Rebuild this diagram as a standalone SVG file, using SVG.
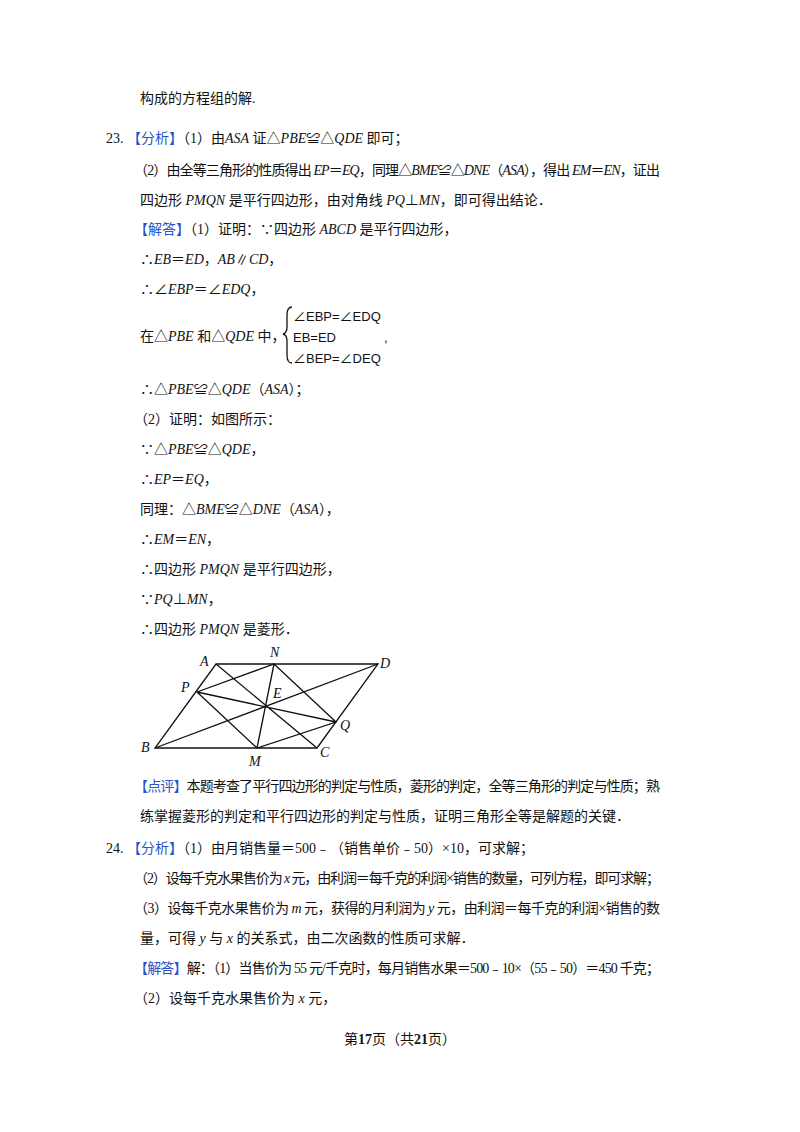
<svg xmlns="http://www.w3.org/2000/svg" width="800" height="1132" viewBox="0 0 800 1132">
<style>
text{font-family:"Liberation Serif","Noto Sans CJK SC",serif;font-size:14px;fill:#111}
.b{fill:#2a52c9}
.i{font-style:italic}
.s{font-family:"Liberation Sans","Noto Sans CJK SC",sans-serif;font-size:13px}
.l{stroke:#111;stroke-width:1.3;fill:none}
.lb{font-style:italic;font-size:14px}
</style>
<rect width="800" height="1132" fill="#fff"/>
<text x="140" y="103">构成的方程组的解.</text>
<text x="106" y="143">23.  <tspan class="b">【分析】</tspan>（1）由<tspan class="i">ASA</tspan> 证△<tspan class="i">PBE</tspan>≌△<tspan class="i">QDE</tspan> 即可；</text>
<text x="134" y="175" textLength="526" lengthAdjust="spacing">（2）由全等三角形的性质得出 <tspan class="i">EP</tspan>＝<tspan class="i">EQ</tspan>，同理△<tspan class="i">BME</tspan>≌△<tspan class="i">DNE</tspan>（<tspan class="i">ASA</tspan>），得出 <tspan class="i">EM</tspan>＝<tspan class="i">EN</tspan>，证出</text>
<text x="140" y="205">四边形 <tspan class="i">PMQN</tspan> 是平行四边形，由对角线 <tspan class="i">PQ</tspan>⊥<tspan class="i">MN</tspan>，即可得出结论．</text>
<text x="134" y="234"><tspan class="b">【解答】</tspan>（1）证明：∵四边形 <tspan class="i">ABCD</tspan> 是平行四边形，</text>
<text x="140" y="264">∴<tspan class="i">EB</tspan>＝<tspan class="i">ED</tspan>，<tspan class="i">AB</tspan>∥<tspan class="i">CD</tspan>，</text>
<text x="140" y="294">∴∠<tspan class="i">EBP</tspan>＝∠<tspan class="i">EDQ</tspan>，</text>
<text x="140" y="341">在△<tspan class="i">PBE</tspan> 和△<tspan class="i">QDE</tspan> 中，</text>
<path class="l" d="M292,307 Q287,307 287,315 L287,327 Q287,333 283,334 Q287,335 287,341 L287,355 Q287,363 292,363" stroke-width="1"/>
<text class="s" x="293" y="321">∠EBP=∠EDQ</text>
<text class="s" x="293" y="342">EB=ED</text>
<text class="s" x="384" y="342">,</text>
<text class="s" x="293" y="363">∠BEP=∠DEQ</text>
<text x="140" y="394">∴△<tspan class="i">PBE</tspan>≌△<tspan class="i">QDE</tspan>（<tspan class="i">ASA</tspan>）；</text>
<text x="134" y="424">（2）证明：如图所示：</text>
<text x="140" y="454">∵△<tspan class="i">PBE</tspan>≌△<tspan class="i">QDE</tspan>，</text>
<text x="140" y="484">∴<tspan class="i">EP</tspan>＝<tspan class="i">EQ</tspan>，</text>
<text x="140" y="514">同理：△<tspan class="i">BME</tspan>≌△<tspan class="i">DNE</tspan>（<tspan class="i">ASA</tspan>），</text>
<text x="140" y="544">∴<tspan class="i">EM</tspan>＝<tspan class="i">EN</tspan>，</text>
<text x="140" y="574">∴四边形 <tspan class="i">PMQN</tspan> 是平行四边形，</text>
<text x="140" y="604">∵<tspan class="i">PQ</tspan>⊥<tspan class="i">MN</tspan>，</text>
<text x="140" y="634">∴四边形 <tspan class="i">PMQN</tspan> 是菱形．</text>
<g id="figure">
<g id="connectors">
<path class="l" d="M216,664 L378,664 L317,748 L155,748 Z"/>
<path class="l" d="M155,748 L378,664 M216,664 L317,748 M197,692 L336,722 M274,664 L257,748 M197,692 L274,664 L336,722 L257,748 Z"/>
</g>
<text class="lb" x="200" y="666">A</text>
<text class="lb" x="270" y="657">N</text>
<text class="lb" x="380" y="668">D</text>
<text class="lb" x="181" y="692">P</text>
<text class="lb" x="273" y="698">E</text>
<text class="lb" x="340" y="730">Q</text>
<text class="lb" x="141" y="752">B</text>
<text class="lb" x="249" y="766">M</text>
<text class="lb" x="320" y="757">C</text>
</g>
<text x="134" y="791" textLength="526" lengthAdjust="spacing"><tspan class="b">【点评】</tspan>本题考查了平行四边形的判定与性质，菱形的判定，全等三角形的判定与性质；熟</text>
<text x="140" y="821">练掌握菱形的判定和平行四边形的判定与性质，证明三角形全等是解题的关键．</text>
<text x="106" y="853">24.  <tspan class="b">【分析】</tspan>（1）由月销售量＝500﹣（销售单价﹣50）×10，可求解；</text>
<text x="134" y="883" textLength="526" lengthAdjust="spacing">（2）设每千克水果售价为 <tspan class="i">x</tspan> 元，由利润＝每千克的利润×销售的数量，可列方程，即可求解；</text>
<text x="134" y="913" textLength="526" lengthAdjust="spacing">（3）设每千克水果售价为 <tspan class="i">m</tspan> 元，获得的月利润为 <tspan class="i">y</tspan> 元，由利润＝每千克的利润×销售的数</text>
<text x="140" y="943">量，可得 <tspan class="i">y</tspan> 与 <tspan class="i">x</tspan> 的关系式，由二次函数的性质可求解．</text>
<text x="134" y="973" textLength="526" lengthAdjust="spacing"><tspan class="b">【解答】</tspan>解：（1）当售价为 55 元/千克时，每月销售水果＝500﹣10×（55﹣50）＝450 千克；</text>
<text x="134" y="1003">（2）设每千克水果售价为 <tspan class="i">x</tspan> 元，</text>
<text x="400" y="1044" text-anchor="middle" font-size="12">第<tspan font-weight="bold" font-size="14">17</tspan>页（共<tspan font-weight="bold" font-size="14">21</tspan>页）</text>
</svg>
